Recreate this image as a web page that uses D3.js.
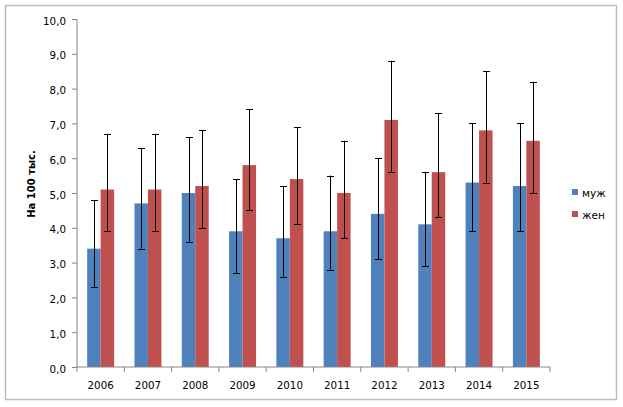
<!DOCTYPE html>
<html>
<head>
<meta charset="UTF-8">
<title>На 100 тыс.</title>
<script src="https://cdn.jsdelivr.net/npm/d3@7"></script>
<style>
body { margin: 0; background: #fff; }
text { font-family: "DejaVu Sans", Verdana, sans-serif; fill: #000; }
.axis path, .axis line { stroke: #868686; }
.err { stroke: #000; stroke-width: 1px; }
</style>
</head>
<body>
<svg id="chart" width="623" height="407"></svg>
<script>
var years = ["2006","2007","2008","2009","2010","2011","2012","2013","2014","2015"];
var seriesNames = ["муж", "жен"];
var colors = ["#4F81BD", "#C0504D"];
var male = [3.4, 4.7, 5.0, 3.9, 3.7, 3.9, 4.4, 4.1, 5.3, 5.2];
var maleLow = [2.3, 3.4, 3.6, 2.7, 2.6, 2.8, 3.1, 2.9, 3.9, 3.9];
var maleHigh = [4.8, 6.3, 6.6, 5.4, 5.2, 5.5, 6.0, 5.6, 7.0, 7.0];
var female = [5.1, 5.1, 5.2, 5.8, 5.4, 5.0, 7.1, 5.6, 6.8, 6.5];
var femaleLow = [3.9, 3.9, 4.0, 4.5, 4.1, 3.7, 5.6, 4.3, 5.3, 5.0];
var femaleHigh = [6.7, 6.7, 6.8, 7.4, 6.9, 6.5, 8.8, 7.3, 8.5, 8.2];
var yTicks = [0,1,2,3,4,5,6,7,8,9,10];

var svg = d3.select("#chart");

// outer frame
svg.append("rect").attr("x", 5.5).attr("y", 5.5).attr("width", 611).attr("height", 394)
   .attr("fill", "#fff").attr("stroke", "#bcbcbc").attr("stroke-width", 1.5);

var x = d3.scaleBand().domain(years).range([77, 550]).paddingInner(0).paddingOuter(0);
var y = d3.scaleLinear().domain([0, 10]).range([367, 19]);
var barW = x.bandwidth() * 0.285;

var rows = years.map(function(yr, i) {
  return [
    {year: yr, s: 0, v: male[i], lo: maleLow[i], hi: maleHigh[i]},
    {year: yr, s: 1, v: female[i], lo: femaleLow[i], hi: femaleHigh[i]}
  ];
});
var flat = [].concat.apply([], rows);
function cx(d) { return x(d.year) + x.bandwidth() / 2 + (d.s === 0 ? -barW / 2 : barW / 2); }

svg.selectAll("rect.bar").data(flat).enter().append("rect")
   .attr("class", "bar")
   .attr("x", function(d) { return cx(d) - barW / 2; })
   .attr("y", function(d) { return y(d.v); })
   .attr("width", barW)
   .attr("height", function(d) { return y(0) - y(d.v); })
   .attr("fill", function(d) { return colors[d.s]; });

// y axis
var yAxis = svg.append("g").attr("class", "axis").attr("transform", "translate(77,0)")
   .call(d3.axisLeft(y).tickValues(yTicks).tickSize(5).tickPadding(6)
         .tickFormat(function(d) { return d3.format(".1f")(d).replace(".", ","); }));
yAxis.select(".domain").attr("d", "M0," + y(10) + "V" + y(0));
yAxis.selectAll("text").style("font-size", "10.3px").attr("dy", "0.5em");

// x axis
var xAxis = svg.append("g").attr("class", "axis").attr("transform", "translate(0,367)")
   .call(d3.axisBottom(x).tickSize(0).tickPadding(15));
xAxis.select(".domain").attr("d", "M77,0H550");
xAxis.selectAll("text").style("font-size", "10.3px");
xAxis.selectAll("line.sep").data(years.concat(["end"])).enter().append("line")
   .attr("class", "sep")
   .attr("x1", function(d, i) { return 77 + i * x.bandwidth(); })
   .attr("x2", function(d, i) { return 77 + i * x.bandwidth(); })
   .attr("y1", 0).attr("y2", 5)
   .attr("stroke", "#868686");

// error bars
var capW = 3.5;
var eg = svg.append("g");
eg.selectAll("line.v").data(flat).enter().append("line").attr("class", "err")
  .attr("x1", function(d) { return Math.round(cx(d)) + 0.5; })
  .attr("x2", function(d) { return Math.round(cx(d)) + 0.5; })
  .attr("y1", function(d) { return y(d.lo); })
  .attr("y2", function(d) { return y(d.hi); });
["lo", "hi"].forEach(function(k) {
  eg.selectAll("line.c" + k).data(flat).enter().append("line").attr("class", "err c" + k)
    .attr("x1", function(d) { return Math.round(cx(d)) + 0.5 - capW; })
    .attr("x2", function(d) { return Math.round(cx(d)) + 0.5 + capW; })
    .attr("y1", function(d) { return Math.round(y(d[k])) + 0.5; })
    .attr("y2", function(d) { return Math.round(y(d[k])) + 0.5; });
});

// y title
svg.append("text")
   .attr("transform", "translate(35,184) rotate(-90)")
   .attr("text-anchor", "middle")
   .style("font-size", "10px").style("font-weight", "bold")
   .text("На 100 тыс.");

// legend
var lg = svg.append("g").attr("transform", "translate(572,189)");
seriesNames.forEach(function(n, i) {
  lg.append("rect").attr("x", 0).attr("y", i * 22).attr("width", 6).attr("height", 6)
    .attr("fill", colors[i]);
  lg.append("text").attr("x", 10).attr("y", i * 22 + 7.5)
    .style("font-size", "10.5px").text(n);
});
</script>
</body>
</html>
